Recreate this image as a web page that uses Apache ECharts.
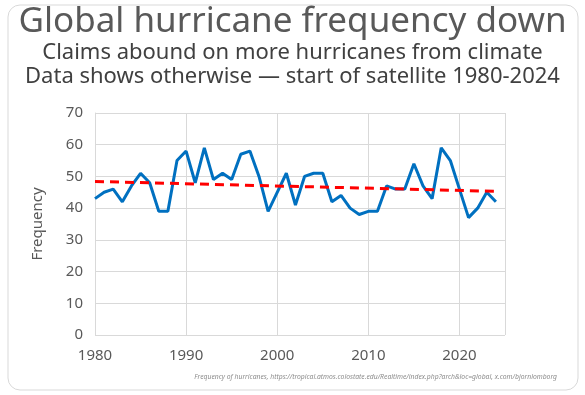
<!DOCTYPE html>
<html><head><meta charset="utf-8">
<script src="https://cdn.jsdelivr.net/npm/echarts@6/dist/echarts.min.js"></script>
<style>html,body{margin:0;padding:0;background:#fff}#c{width:585px;height:395px}</style>
</head><body><div id="c"></div>
<script>
const years = [1980,1981,1982,1983,1984,1985,1986,1987,1988,1989,1990,1991,1992,1993,1994,1995,1996,1997,1998,1999,2000,2001,2002,2003,2004,2005,2006,2007,2008,2009,2010,2011,2012,2013,2014,2015,2016,2017,2018,2019,2020,2021,2022,2023,2024];
const frequency = [43,45,46,42,47,51,48,39,39,55,58,48,59,49,51,49,57,58,50,39,45,51,41,50,51,51,42,44,40,38,39,39,47,46,46,54,47,43,59,55,46,37,40,45,42];
const trendYears = [1980,2024];
const trendValues = [48.4,45.3];
const titleText = 'Global hurricane frequency down';
const subtitleLines = ['Claims abound on more hurricanes from climate','Data shows otherwise — start of satellite 1980-2024'];
const sourceText = 'Frequency of hurricanes, https://tropical.atmos.colostate.edu/Realtime/index.php?arch&loc=global, x.com/bjornlomborg';

const chart = echarts.init(document.getElementById('c'), null, {renderer:'canvas'});
const F = 'Noto Sans, sans-serif';
chart.setOption({
  animation:false,
  backgroundColor:'#fff',
  graphic:[
    {type:'rect', shape:{x:8,y:5,width:570,height:385,r:12}, style:{fill:'none',stroke:'#d9d9d9',lineWidth:1}},
    {type:'text', left:'center', top:5, style:{text:titleText, font:'35px '+F, fill:'#595959'}},
    {type:'text', left:'center', top:42, style:{text:subtitleLines[0], font:'22px '+F, fill:'#404040'}},
    {type:'text', left:'center', top:66, style:{text:subtitleLines[1], font:'22px '+F, fill:'#404040'}},
    {type:'text', right:28, top:374, style:{text:sourceText, font:'italic 6.8px '+F, fill:'#8c8c8c'}}
  ],
  grid:{left:95,right:80,top:113,bottom:60},
  xAxis:{type:'value',min:1980,max:2025,interval:10,
    axisLine:{show:false},axisTick:{show:false},
    splitLine:{show:true,lineStyle:{color:'#d9d9d9',width:1}},
    axisLabel:{color:'#595959',fontSize:15,fontFamily:F,margin:13,
      formatter:v=> (v%10===0 && v<=2020) ? String(v) : ''}},
  yAxis:{type:'value',min:0,max:70,interval:10,name:'Frequency',nameLocation:'middle',nameGap:50,
    nameTextStyle:{color:'#595959',fontSize:15,fontFamily:F},
    axisLine:{show:true,lineStyle:{color:'#d9d9d9'}},axisTick:{show:false},
    splitLine:{lineStyle:{color:'#d9d9d9',width:1}},
    axisLabel:{color:'#595959',fontSize:15,fontFamily:F,margin:12}},
  series:[
    {type:'line',data:years.map((y,i)=>[y,frequency[i]]),symbol:'none',
      lineStyle:{color:'#0070C0',width:3},z:2},
    {type:'line',data:trendYears.map((y,i)=>[y,trendValues[i]]),symbol:'none',
      lineStyle:{color:'#FF0000',width:3,type:[9,6]},z:3}
  ]
});
</script></body></html>
